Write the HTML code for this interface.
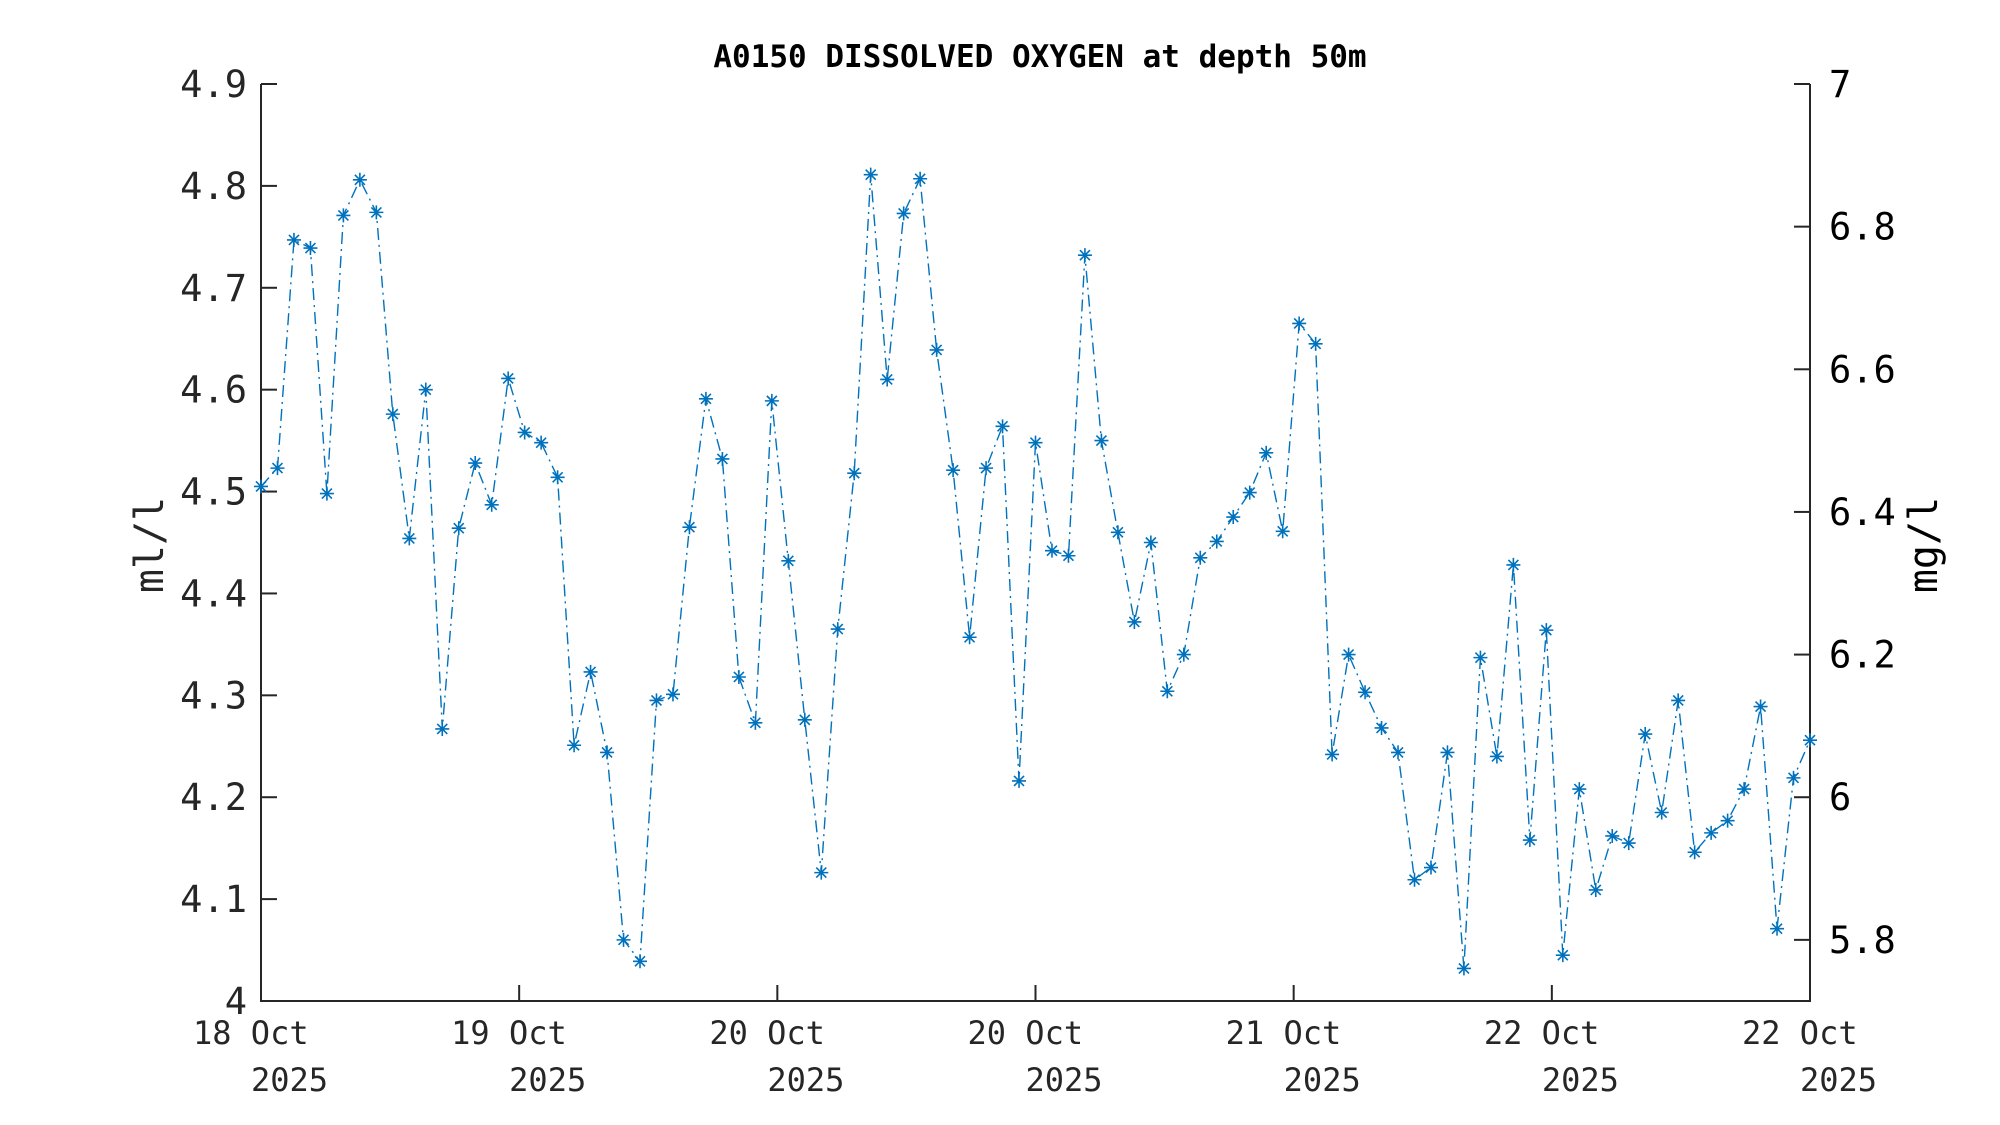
<!DOCTYPE html>
<html><head><meta charset="utf-8">
<style>
html,body{margin:0;padding:0;background:#fff;}
svg{display:block;}
text{font-family:"DejaVu Sans Mono","Liberation Mono",monospace;}
</style></head>
<body>
<svg id="s" width="2000" height="1125" xmlns="http://www.w3.org/2000/svg">
<rect width="2000" height="1125" fill="#fff"/>
<text x="1040" y="67" font-size="31" font-weight="bold" text-anchor="middle" fill="#000">A0150 DISSOLVED OXYGEN at depth 50m</text>
<g id="axes" stroke="#262626" stroke-width="2" fill="none">
<line x1="261" y1="84" x2="261" y2="1002"/>
<line x1="260" y1="1001" x2="1811" y2="1001"/>
<line x1="1810" y1="84" x2="1810" y2="1002"/>
</g>
<g id="lt" font-size="37" fill="#262626" text-anchor="end"></g>
<g id="rt" font-size="37" fill="#000" text-anchor="start"></g>
<g id="xt" font-size="32" fill="#262626" text-anchor="start"></g>
<text transform="translate(163,545) rotate(-90)" font-size="40" fill="#262626" text-anchor="middle">ml/l</text>
<text transform="translate(1937,545) rotate(-90)" font-size="40" fill="#000" text-anchor="middle">mg/l</text>
<polyline id="ln" fill="none" stroke="#0072BD" stroke-width="1.4" stroke-dasharray="12,5,2,5"/>
<g id="mk" stroke="#0072BD" stroke-width="1.6"></g>
</svg>
<script>
var NS="http://www.w3.org/2000/svg";
function el(p,t,a,txt){var e=document.createElementNS(NS,t);for(var k in a)e.setAttribute(k,a[k]);if(txt!=null)e.textContent=txt;p.appendChild(e);return e;}
var ax=document.getElementById('axes');
var X0=261,X1=1810,Y0=1001,Y1=84;
function yv(v){return Y0-(v-4)/0.9*(Y0-Y1);}
var lt=document.getElementById('lt');
for(var i=0;i<=9;i++){var v=4+i*0.1,y=yv(v);
 el(ax,'line',{x1:X0,y1:y,x2:X0+16,y2:y});
 el(lt,'text',{x:247,y:y+13},i==0?'4':(4+i*0.1).toFixed(1));}
var rt=document.getElementById('rt');
var rlo=4*7/4.9;
[5.8,6,6.2,6.4,6.6,6.8,7].forEach(function(v){var y=Y1+(7-v)/(7-rlo)*(Y0-Y1);
 el(ax,'line',{x1:X1,y1:y,x2:X1-16,y2:y});
 el(rt,'text',{x:1829,y:y+13},(v==6||v==7)?String(v):v.toFixed(1));});
var xt=document.getElementById('xt');
var labs=['18 Oct','19 Oct','20 Oct','20 Oct','21 Oct','22 Oct','22 Oct'];
for(var i=0;i<7;i++){var x=X0+i*(X1-X0)/6;
 el(ax,'line',{x1:x,y1:Y0,x2:x,y2:Y0-16});
 el(xt,'text',{x:x-68,y:1044},labs[i]);
 el(xt,'text',{x:x-10,y:1091},'2025');}
var d=[4.505,4.523,4.747,4.739,4.498,4.771,4.806,4.774,4.576,4.454,4.600,4.267,4.464,4.528,4.487,4.611,4.558,4.548,4.514,4.251,4.323,4.244,4.060,4.039,4.295,4.301,4.465,4.591,4.532,4.318,4.273,4.589,4.432,4.276,4.126,4.365,4.518,4.811,4.610,4.773,4.807,4.639,4.521,4.357,4.523,4.564,4.216,4.548,4.442,4.437,4.732,4.550,4.460,4.372,4.450,4.304,4.340,4.435,4.451,4.475,4.499,4.538,4.461,4.665,4.645,4.242,4.340,4.303,4.268,4.244,4.119,4.131,4.244,4.032,4.337,4.240,4.428,4.158,4.364,4.045,4.208,4.109,4.162,4.155,4.262,4.185,4.295,4.146,4.165,4.177,4.208,4.289,4.071,4.219,4.256];
var n=d.length,pts=[],mk=document.getElementById('mk');
for(var i=0;i<n;i++){var x=X0+i*(X1-X0)/(n-1),y=yv(d[i]);pts.push(x.toFixed(1)+','+y.toFixed(1));
 var r=7,q=5;
 el(mk,'path',{d:'M'+(x-r)+' '+y+'h'+(2*r)+'M'+x+' '+(y-r)+'v'+(2*r)+'M'+(x-q)+' '+(y-q)+'l'+(2*q)+' '+(2*q)+'M'+(x-q)+' '+(y+q)+'l'+(2*q)+' '+(-2*q)});}
document.getElementById('ln').setAttribute('points',pts.join(' '));
</script>
</body></html>
